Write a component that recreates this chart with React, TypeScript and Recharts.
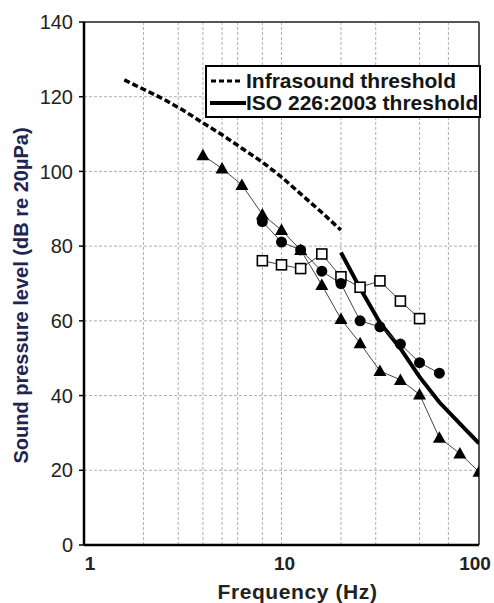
import React from "react";
import {
  LineChart,
  Line,
  XAxis,
  YAxis,
  CartesianGrid,
  ReferenceLine,
  Legend,
} from "recharts";

const FONT = '"Liberation Sans", Arial, sans-serif';

// frequency grid (log axis) and level ticks
const freqTicks = [1, 2, 3, 4, 5, 6, 7, 8, 9, 10, 20, 30, 40, 50, 60, 70, 80, 90, 100];
const freqLabels = [1, 10, 100];
const levelTicks = [0, 20, 40, 60, 80, 100, 120, 140];

// threshold curves
const infraFreq = [1.6, 2, 2.5, 3.15, 4, 5, 6.3, 8, 10, 12.5, 16, 20];
const infraLevel = [124.5, 122, 119.5, 116.5, 113, 109.8, 106.2, 102.5, 98.5, 94, 89, 84.3];
const isoFreq = [20, 25, 31.5, 40, 50, 63, 80, 100];
const isoLevel = [78.3, 68.7, 59.5, 52.6, 45, 38.2, 32.5, 27.2];

// measured series
const triFreq = [4, 5, 6.3, 8, 10, 12.5, 16, 20, 25, 31.5, 40, 50, 63, 80, 100];
const triLevel = [104.3, 100.8, 96.4, 88.5, 84.3, 79, 69.6, 60.5, 54, 46.6, 44.2, 40.3, 28.7, 24.5, 19.6];
const dotFreq = [8, 10, 12.5, 16, 20, 25, 31.5, 40, 50, 63];
const dotLevel = [86.6, 81.1, 79, 73.3, 70, 60, 58.4, 53.8, 48.8, 46];
const sqFreq = [8, 10, 12.5, 16, 20, 25, 31.5, 40, 50];
const sqLevel = [76.1, 75, 74, 77.9, 71.8, 69, 70.7, 65.3, 60.6];

const zip = (fs: number[], vs: number[]) => fs.map((f, i) => ({ f, v: vs[i] }));

const infraData = zip(infraFreq, infraLevel);
const isoData = zip(isoFreq, isoLevel);
const triData = zip(triFreq, triLevel);
const dotData = zip(dotFreq, dotLevel);
const sqData = zip(sqFreq, sqLevel);

const Triangle = (p: any) => {
  const { cx, cy } = p;
  if (cx == null || cy == null) return null;
  return (
    <path
      key={`t-${p.index}`}
      d={`M${cx},${cy - 6.5} L${cx + 6.5},${cy + 5} L${cx - 6.5},${cy + 5} Z`}
      fill="#000"
    />
  );
};

const Dot = (p: any) => {
  const { cx, cy } = p;
  if (cx == null || cy == null) return null;
  return <circle key={`c-${p.index}`} cx={cx} cy={cy} r={5.5} fill="#000" />;
};

const Square = (p: any) => {
  const { cx, cy } = p;
  if (cx == null || cy == null) return null;
  return (
    <rect
      key={`s-${p.index}`}
      x={cx - 5}
      y={cy - 5}
      width={10}
      height={10}
      fill="#fff"
      stroke="#000"
      strokeWidth={1.6}
    />
  );
};

const XTick = (p: any) => {
  const { x, y, payload } = p;
  const v = payload.value;
  if (!freqLabels.includes(v)) return null;
  const shift = v === 1 ? 6 : v === 100 ? -4 : 3;
  return (
    <text
      x={x + shift}
      y={y}
      dy="0.71em"
      textAnchor="middle"
      fontFamily={FONT}
      fontWeight="bold"
      fontSize={19}
      fill="#222"
    >
      {v}
    </text>
  );
};

const LegendBox = () => (
  <div
    style={{
      boxSizing: "border-box",
      width: 276,
      height: 53,
      border: "2px solid #000",
      background: "#fff",
      fontFamily: FONT,
      fontWeight: "bold",
      fontSize: 21,
      color: "#151515",
      padding: "3px 0 0 2px",
      lineHeight: "22px",
    }}
  >
    <div style={{ display: "flex", alignItems: "center", height: 22 }}>
      <svg width={37} height={10}>
        <line x1={2} y1={5} x2={33} y2={5} stroke="#000" strokeWidth={3} strokeDasharray="5 3" />
      </svg>
      <span>Infrasound threshold</span>
    </div>
    <div style={{ display: "flex", alignItems: "center", height: 22 }}>
      <svg width={37} height={10}>
        <line x1={1} y1={5} x2={37} y2={5} stroke="#000" strokeWidth={4} />
      </svg>
      <span>ISO 226:2003 threshold</span>
    </div>
  </div>
);

export default function App() {
  return (
    <div style={{ width: 494, height: 603 }}>
      <style>{"body { margin: 0; }"}</style>
      <LineChart
        width={494}
        height={603}
        margin={{ top: 22, right: 15, left: 0, bottom: 0 }}
      >
        <CartesianGrid stroke="#b0b0b0" strokeDasharray="3 2" strokeWidth={1} />
        <XAxis
          dataKey="f"
          type="number"
          scale="log"
          domain={[1, 100]}
          ticks={freqTicks}
          allowDataOverflow
          height={58}
          tickLine={false}
          tickSize={0}
          tickMargin={12}
          tick={<XTick />}
          axisLine={{ stroke: "#000", strokeWidth: 2.5 }}
          label={(props: any) => {
            const vb = props.viewBox;
            return (
              <text
                x={vb.x + vb.width / 2 + 16}
                y={vb.y + 47}
                dy="0.35em"
                textAnchor="middle"
                fontFamily={FONT}
                fontWeight="bold"
                fontSize={21}
                letterSpacing={0.6}
                fill="#222"
              >
                Frequency (Hz)
              </text>
            );
          }}
        />
        <YAxis
          type="number"
          domain={[0, 140]}
          ticks={levelTicks}
          width={84}
          tickSize={5}
          tickMargin={6}
          tickLine={{ stroke: "#000", strokeWidth: 1.5 }}
          axisLine={{ stroke: "#000", strokeWidth: 2.5 }}
          tick={{ fontFamily: FONT, fontSize: 20, fill: "#222" }}
          label={(props: any) => {
            const vb = props.viewBox;
            const cx = vb.x + 21;
            const cy = vb.y + vb.height / 2 + 12;
            return (
              <text
                x={cx}
                y={cy}
                transform={`rotate(-90 ${cx} ${cy})`}
                dy="0.35em"
                textAnchor="middle"
                fontFamily={FONT}
                fontWeight="bold"
                fontSize={20}
                fill="#1d2550"
              >
                Sound pressure level (dB re 20µPa)
              </text>
            );
          }}
        />
        <ReferenceLine y={140} stroke="#555" strokeWidth={2} />
        <ReferenceLine x={100} stroke="#555" strokeWidth={2} />
        <Line
          data={infraData}
          dataKey="v"
          name="Infrasound threshold"
          stroke="#000"
          strokeWidth={3.5}
          strokeDasharray="6 3"
          dot={false}
          isAnimationActive={false}
        />
        <Line
          data={isoData}
          dataKey="v"
          name="ISO 226:2003 threshold"
          stroke="#000"
          strokeWidth={4}
          dot={false}
          isAnimationActive={false}
        />
        <Line
          data={sqData}
          dataKey="v"
          stroke="#444"
          strokeWidth={1}
          dot={Square}
          legendType="none"
          isAnimationActive={false}
        />
        <Line
          data={dotData}
          dataKey="v"
          stroke="#444"
          strokeWidth={1}
          dot={Dot}
          legendType="none"
          isAnimationActive={false}
        />
        <Line
          data={triData}
          dataKey="v"
          stroke="#444"
          strokeWidth={1}
          dot={Triangle}
          legendType="none"
          isAnimationActive={false}
        />
        <Legend
          layout="vertical"
          align="center"
          verticalAlign="middle"
          content={<LegendBox />}
          wrapperStyle={{ position: "absolute", left: 205, top: 65, width: 276 }}
        />
      </LineChart>
    </div>
  );
}
